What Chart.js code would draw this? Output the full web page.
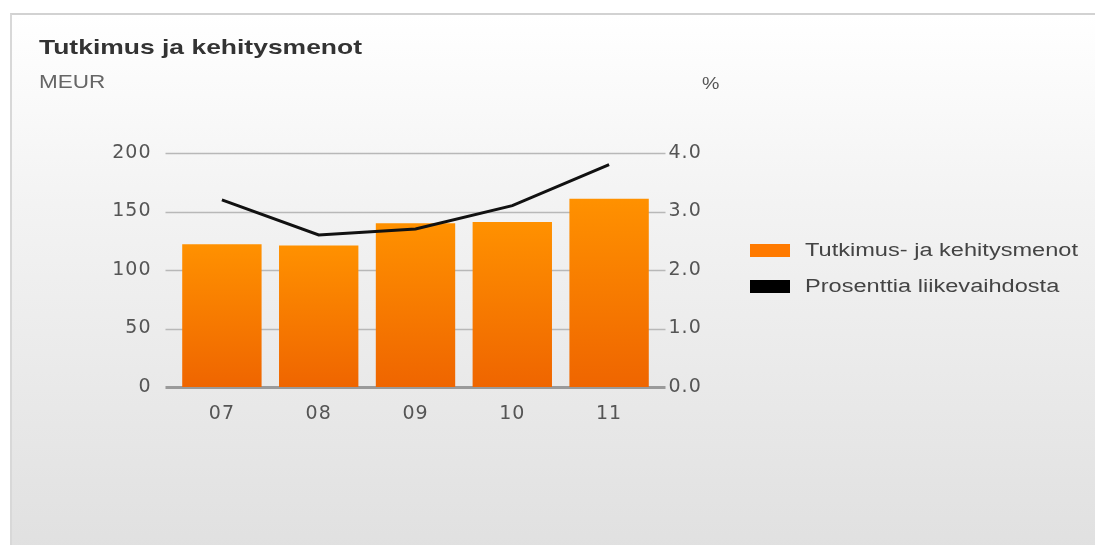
<!DOCTYPE html>
<html>
<head>
<meta charset="utf-8">
<script src="https://cdn.jsdelivr.net/npm/chart.js@4"></script>
<style>
  html, body { margin: 0; padding: 0; background: #fff; }
  body { width: 1095px; height: 545px; position: relative; overflow: hidden; font-family: "Liberation Sans", Arial, sans-serif; }
  #panel {
    position: absolute; left: 10px; top: 13px; width: 1100px; height: 540px;
    border-top: 2px solid #d2d2d2; border-left: 2px solid #d8d8d8;
    background: linear-gradient(to bottom, #ffffff 0%, #f3f3f3 35%, #e0e0e0 100%);
  }
  #chartWrap { position: absolute; left: 0; top: 0; width: 1095px; height: 545px; }
  .txt { position: absolute; white-space: nowrap; transform-origin: left center; }
  #title { left: 39px; top: 35px; font-size: 21px; font-weight: bold; color: #333; transform: scaleX(1.26); }
  #unitL { left: 39px; top: 72px; font-size: 18px; color: #666; transform: scaleX(1.25); }
  #unitR { left: 702px; top: 74px; font-size: 17px; color: #555; transform: scaleX(1.15); }
  #legend { position: absolute; left: 750px; top: 240px; }
  .item { height: 36px; display: flex; align-items: flex-start; font-size: 18px; color: #444; }
  .item span { display: inline-block; transform: scaleX(1.31); transform-origin: left center; }
  .sw { width: 40px; height: 13px; margin-top: 4px; margin-right: 15px; }
</style>
</head>
<body>
<div id="panel"></div>
<div id="chartWrap"><canvas id="rdChart" width="1095" height="545"></canvas></div>
<div class="txt" id="title">Tutkimus ja kehitysmenot</div>
<div class="txt" id="unitL">MEUR</div>
<div class="txt" id="unitR">%</div>
<div id="legend"></div>

<script>
const years = ['07', '08', '09', '10', '11'];
const rdSpend = [122, 121, 140, 141, 161];        // MEUR
const rdShare = [3.2, 2.6, 2.7, 3.1, 3.8];        // % liikevaihdosta
const leftTicks = [0, 50, 100, 150, 200];
const rightTicks = [0, 1, 2, 3, 4];

const seriesNames = ['Tutkimus- ja kehitysmenot', 'Prosenttia liikevaihdosta'];
const seriesColors = ['#ff7a00', '#000000'];

const tickFont = { size: 19, family: 'DejaVu Sans' };

// gradient per bar, from its own top to the baseline
function barGradient(context) {
  const chart = context.chart;
  const y = chart.scales.y;
  if (!chart.chartArea || !y || context.raw === undefined) return '#ff8000';
  const top = y.getPixelForValue(context.raw);
  const bottom = y.getPixelForValue(0);
  const g = chart.ctx.createLinearGradient(0, top, 0, bottom);
  g.addColorStop(0, '#ff9100');
  g.addColorStop(1, '#ef6500');
  return g;
}

// grid lines run a little past the outer bars, like the original
const extendedGrid = {
  id: 'extendedGrid',
  beforeDraw(chart) {
    chart.ctx.letterSpacing = '1px';   // the original text is drawn a bit wide
  },
  beforeDatasetsDraw(chart) {
    const { ctx, chartArea, scales } = chart;
    ctx.save();
    leftTicks.forEach(v => {
      const py = Math.round(scales.y.getPixelForValue(v)) + 0.5;
      ctx.beginPath();
      ctx.strokeStyle = v === 0 ? '#9a9a9a' : '#b8b8b8';
      ctx.lineWidth = v === 0 ? 3 : 1.5;
      ctx.moveTo(chartArea.left - 8, py);
      ctx.lineTo(chartArea.right + 8, py);
      ctx.stroke();
    });
    ctx.restore();
  }
};

const ctx = document.getElementById('rdChart').getContext('2d');

new Chart(ctx, {
  data: {
    labels: years,
    datasets: [
      {
        type: 'line',
        label: seriesNames[1],
        data: rdShare,
        yAxisID: 'y1',
        borderColor: '#111',
        borderWidth: 3,
        pointRadius: 0,
        tension: 0,
        order: 0,
      },
      {
        type: 'bar',
        label: seriesNames[0],
        data: rdSpend,
        yAxisID: 'y',
        backgroundColor: barGradient,
        categoryPercentage: 1,
        barPercentage: 0.82,
        order: 1,
      },
    ],
  },
  options: {
    responsive: false,
    animation: false,
    layout: { padding: { top: 153, left: 0, right: 0, bottom: 0 } },
    plugins: { legend: { display: false }, tooltip: { enabled: false } },
    scales: {
      x: {
        grid: { display: false, drawTicks: false },
        border: { display: false },
        ticks: { color: '#555', font: tickFont, padding: 16 },
        afterFit(scale) { scale.height = 545 - 387; },
      },
      y: {
        position: 'left',
        min: 0, max: 200,
        afterBuildTicks(scale) { scale.ticks = leftTicks.map(v => ({ value: v })); },
        grid: { display: false, drawTicks: false },
        border: { display: false },
        ticks: { color: '#555', font: tickFont, padding: 22 },
        afterFit(scale) { scale.width = 173.5; },
      },
      y1: {
        position: 'right',
        min: 0, max: 4,
        afterBuildTicks(scale) { scale.ticks = rightTicks.map(v => ({ value: v })); },
        grid: { display: false, drawTicks: false },
        border: { display: false },
        ticks: {
          color: '#555', font: tickFont, padding: 11,
          callback: v => Number(v).toFixed(1),
        },
        afterFit(scale) { scale.width = 1095 - 657.5; },
      },
    },
  },
  plugins: [extendedGrid],
});

// legend
const legend = document.getElementById('legend');
seriesNames.forEach((name, i) => {
  const row = document.createElement('div');
  row.className = 'item';
  row.innerHTML = '<div class="sw" style="background:' + seriesColors[i] + '"></div><span>' + name + '</span>';
  legend.appendChild(row);
});
</script>
</body>
</html>
